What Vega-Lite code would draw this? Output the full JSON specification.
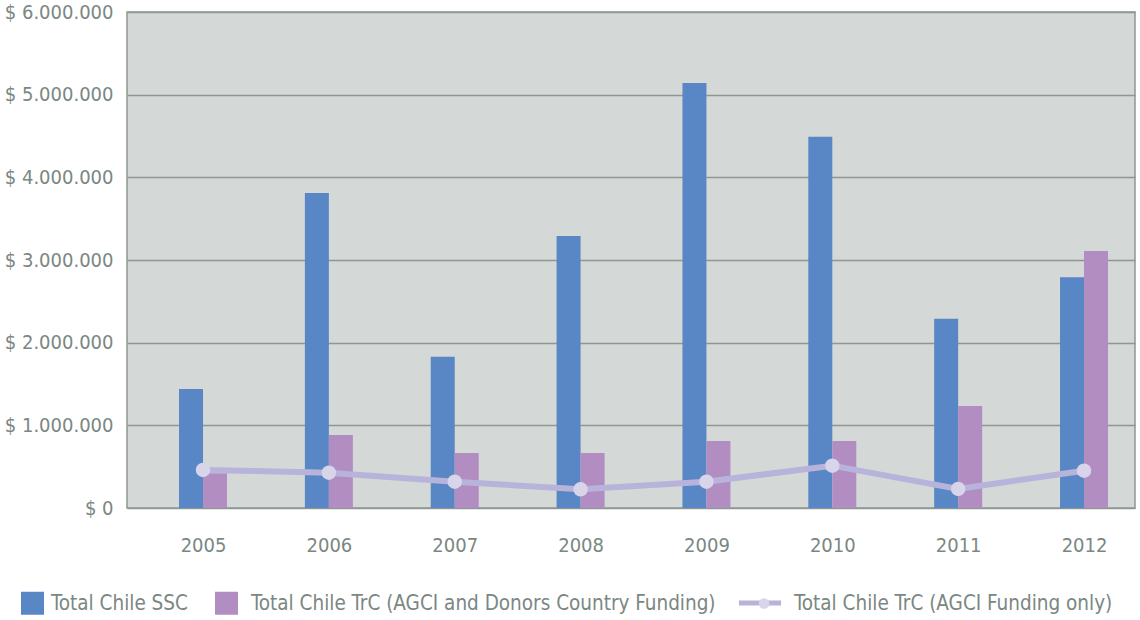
{
  "$schema": "https://vega.github.io/schema/vega-lite/v6.json",
  "width": 1008,
  "height": 496,
  "autosize": "none",
  "padding": {"left": 127, "top": 12, "right": 5, "bottom": 112},
  "background": "white",
  "config": {
    "font": "DejaVu Sans Condensed",
    "view": {"fill": "#d4d9d7", "stroke": "#8e9893", "strokeWidth": 1.5},
    "axis": {"labelColor": "#7b8782", "labelFontSize": 20, "ticks": false, "domain": false, "title": null}
  },
  "data": {
    "values": [
      {"year": 2005, "series": "Total Chile SSC", "value": 1440000},
      {"year": 2006, "series": "Total Chile SSC", "value": 3810000},
      {"year": 2007, "series": "Total Chile SSC", "value": 1830000},
      {"year": 2008, "series": "Total Chile SSC", "value": 3290000},
      {"year": 2009, "series": "Total Chile SSC", "value": 5140000},
      {"year": 2010, "series": "Total Chile SSC", "value": 4490000},
      {"year": 2011, "series": "Total Chile SSC", "value": 2290000},
      {"year": 2012, "series": "Total Chile SSC", "value": 2790000},
      {"year": 2005, "series": "Total Chile TrC (AGCI and Donors Country Funding)", "value": 420000},
      {"year": 2006, "series": "Total Chile TrC (AGCI and Donors Country Funding)", "value": 883000},
      {"year": 2007, "series": "Total Chile TrC (AGCI and Donors Country Funding)", "value": 665000},
      {"year": 2008, "series": "Total Chile TrC (AGCI and Donors Country Funding)", "value": 665000},
      {"year": 2009, "series": "Total Chile TrC (AGCI and Donors Country Funding)", "value": 810000},
      {"year": 2010, "series": "Total Chile TrC (AGCI and Donors Country Funding)", "value": 810000},
      {"year": 2011, "series": "Total Chile TrC (AGCI and Donors Country Funding)", "value": 1234000},
      {"year": 2012, "series": "Total Chile TrC (AGCI and Donors Country Funding)", "value": 3110000},
      {"year": 2005, "series": "Total Chile TrC (AGCI Funding only)", "value": 460000},
      {"year": 2006, "series": "Total Chile TrC (AGCI Funding only)", "value": 427000},
      {"year": 2007, "series": "Total Chile TrC (AGCI Funding only)", "value": 318000},
      {"year": 2008, "series": "Total Chile TrC (AGCI Funding only)", "value": 226000},
      {"year": 2009, "series": "Total Chile TrC (AGCI Funding only)", "value": 318000},
      {"year": 2010, "series": "Total Chile TrC (AGCI Funding only)", "value": 512000},
      {"year": 2011, "series": "Total Chile TrC (AGCI Funding only)", "value": 230000},
      {"year": 2012, "series": "Total Chile TrC (AGCI Funding only)", "value": 451000}
    ]
  },
  "encoding": {
    "x": {
      "field": "year", "type": "quantitative",
      "scale": {"domain": [2004.396, 2012.405], "nice": false, "zero": false, "padding": 0},
      "axis": {"values": [2005, 2006, 2007, 2008, 2009, 2010, 2011, 2012], "format": "d", "grid": false, "labelPadding": 27, "labelFlush": false}
    },
    "y": {
      "field": "value", "type": "quantitative",
      "scale": {"domain": [0, 6000000], "nice": false},
      "axis": {
        "values": [0, 1000000, 2000000, 3000000, 4000000, 5000000, 6000000],
        "labelExpr": "'$ ' + replace(replace(format(datum.value, ','), ',', '.'), ',', '.')",
        "gridColor": "#8e9893", "gridWidth": 1.5, "gridOpacity": 1, "labelPadding": 14
      }
    }
  },
  "layer": [
    {
      "transform": [{"filter": "datum.series === 'Total Chile SSC'"}],
      "mark": {"type": "bar", "width": 24, "xOffset": -12},
      "encoding": {
        "color": {
          "field": "series", "type": "nominal",
          "scale": {
            "domain": ["Total Chile SSC", "Total Chile TrC (AGCI and Donors Country Funding)"],
            "range": ["#5987c5", "#b28dc1"]
          },
          "legend": {
            "title": null,
            "orient": "none",
            "direction": "horizontal",
            "columns": 2,
            "legendX": -106,
            "legendY": 580,
            "columnPadding": 27,
            "symbolType": "square",
            "symbolSize": 529,
            "symbolStrokeWidth": 0,
            "symbolOpacity": 1,
            "labelFontSize": 20.5,
            "labelColor": "#7b8782",
            "labelLimit": 600,
            "encode": {
              "symbols": {
                "update": {
                  "x": {"value": 11.5},
                  "y": {"value": 11}
                }
              },
              "labels": {
                "update": {
                  "x": {"signal": "datum.value === 'Total Chile SSC' ? 30 : 36"},
                  "y": {"value": 12},
                  "baseline": {"value": "middle"}
                }
              }
            }
          }
        }
      }
    },
    {
      "transform": [{"filter": "datum.series === 'Total Chile TrC (AGCI and Donors Country Funding)'"}],
      "mark": {"type": "bar", "width": 24, "xOffset": 12},
      "encoding": {"color": {"field": "series", "type": "nominal"}}
    },
    {
      "transform": [{"filter": "datum.series === 'Total Chile TrC (AGCI Funding only)'"}],
      "mark": {"type": "line", "strokeWidth": 6},
      "encoding": {
        "stroke": {
          "field": "series", "type": "nominal",
          "scale": {"range": ["#b8b3da"]},
          "legend": {
            "title": null,
            "orient": "none",
            "legendX": 612,
            "legendY": 580,
            "symbolType": "M-1.83,0L1.83,0",
            "symbolSize": 529,
            "symbolStrokeWidth": 5,
            "symbolOpacity": 1,
            "labelFontSize": 20.5,
            "labelColor": "#7b8782",
            "labelLimit": 600,
            "encode": {
              "symbols": {
                "update": {
                  "x": {"value": 21},
                  "y": {"value": 11},
                  "fill": {"value": "transparent"},
                  "stroke": {"value": "#b8b3da"},
                  "strokeWidth": {"value": 5}
                }
              },
              "labels": {
                "update": {
                  "x": {"value": 55},
                  "y": {"value": 12},
                  "baseline": {"value": "middle"}
                }
              }
            }
          }
        }
      }
    },
    {
      "transform": [{"filter": "datum.series === 'Total Chile TrC (AGCI Funding only)'"}],
      "mark": {"type": "point", "filled": true, "size": 210, "color": "#d8d4e9", "opacity": 1},
      "encoding": {
        "shape": {
          "field": "series", "type": "nominal",
          "scale": {"range": ["circle"]},
          "legend": {
            "title": null,
            "orient": "none",
            "legendX": 631.6,
            "legendY": 586,
            "symbolSize": 113,
            "symbolFillColor": "#d8d4e9",
            "symbolStrokeWidth": 0,
            "symbolOpacity": 1,
            "labelExpr": "''",
            "encode": {
              "symbols": {
                "update": {
                  "x": {"value": 0},
                  "y": {"value": 0},
                  "fill": {"value": "#d8d4e9"},
                  "strokeWidth": {"value": 0}
                }
              }
            }
          }
        }
      }
    }
  ]
}
